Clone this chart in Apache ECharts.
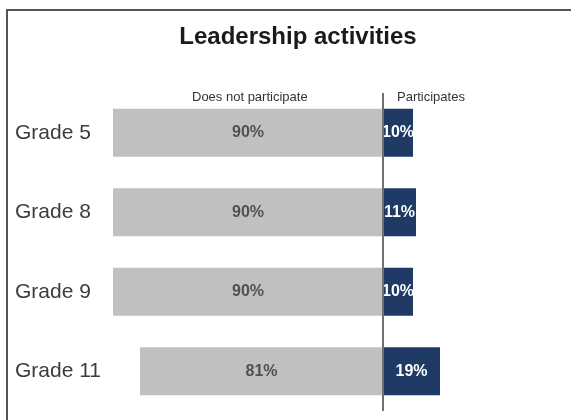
<!DOCTYPE html>
<html>
<head>
<meta charset="utf-8">
<script src="https://cdn.jsdelivr.net/npm/echarts@6/dist/echarts.min.js"></script>
<style>html,body{margin:0;padding:0;background:#fff}#c{width:571px;height:420px}</style>
</head>
<body>
<div id="c"></div>
<script>
var categories = ['Grade 5', 'Grade 8', 'Grade 9', 'Grade 11'];
var notParticipate = [90, 90, 90, 81];
var participates = [10, 11, 10, 19];
var titleText = 'Leadership activities';
var headerLeft = 'Does not participate';
var headerRight = 'Participates';

var FONT = '"Liberation Sans", Arial, sans-serif';
var chart = echarts.init(document.getElementById('c'), null, {renderer: 'canvas'});
chart.setOption({
  animation: false,
  backgroundColor: '#ffffff',
  title: {
    text: titleText,
    left: 293, textAlign: 'center', top: 20,
    textStyle: {fontFamily: FONT, fontSize: 24, fontWeight: 'bold', color: '#1a1a1a'}
  },
  graphic: [
    {type: 'polyline', shape: {points: [[571, 10], [7, 10], [7, 420]]}, style: {stroke: '#555', lineWidth: 2, fill: null}},
    {type: 'text', left: 192, top: 91, style: {text: headerLeft, font: '13px ' + FONT, fill: '#333'}},
    {type: 'text', left: 397, top: 91, style: {text: headerRight, font: '13px ' + FONT, fill: '#333'}}
  ],
  grid: {left: 83, right: 38, top: 93, bottom: 9},
  xAxis: {type: 'value', min: -100, max: 50, show: false},
  yAxis: {
    type: 'category', data: categories, inverse: true,
    axisLine: {show: false}, axisTick: {show: false},
    axisLabel: {align: 'left', margin: 68, fontFamily: FONT, fontSize: 21, color: '#3c3c3c'}
  },
  series: [
    {
      type: 'bar', stack: 't', barWidth: 48,
      data: notParticipate.map(function (v) { return -v; }),
      itemStyle: {color: '#c0c0c0'},
      label: {show: true, position: 'inside', fontFamily: FONT, fontSize: 16, fontWeight: 'bold', color: '#505050',
        formatter: function (p) { return notParticipate[p.dataIndex] + '%'; }}
    },
    {
      type: 'bar', stack: 't', barWidth: 48,
      data: participates,
      itemStyle: {color: '#1f3a64'},
      label: {show: true, position: 'inside', fontFamily: FONT, fontSize: 16, fontWeight: 'bold', color: '#ffffff',
        formatter: function (p) { return participates[p.dataIndex] + '%'; }},
      markLine: {
        silent: true, symbol: 'none', label: {show: false},
        lineStyle: {color: '#707070', width: 2, type: 'solid'},
        data: [{xAxis: 0}]
      }
    }
  ]
});
</script>
</body>
</html>
